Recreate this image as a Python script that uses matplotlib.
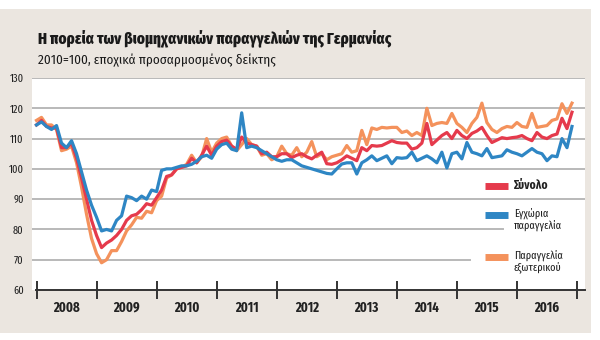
import matplotlib
matplotlib.use('Agg')
import matplotlib.pyplot as plt
import numpy as np

# Μηνιαίες τιμές δείκτη (2010=100), Ιαν. 2008 - Δεκ. 2016
synolo = [
    114.5, 116, 114, 113.5, 113.5, 107, 107, 108.5, 103.5, 97, 90, 83,            # 2008
    78, 74, 75.5, 76.5, 78, 80, 83, 84.5, 85, 86.5, 88.5, 88,                     # 2009
    90.5, 93, 97.5, 98, 100, 100.5, 101, 103.5, 102, 104.5, 107.5, 104.5,         # 2010
    107.5, 109, 109.5, 107.5, 106.5, 110.5, 108.5, 108, 107.5, 105, 105.5, 104,   # 2011
    104, 105, 105, 103.7, 104.5, 105, 104, 103.3, 104.5, 105.5, 101.7, 101.5,     # 2012
    102, 103, 104.3, 103.5, 102.7, 107, 106, 107.7, 107.5, 107.7, 108.5, 109.3,   # 2013
    108.7, 108.5, 108.5, 106.5, 107, 108.5, 115, 108, 109.5, 111, 112, 110,       # 2014
    112.7, 111, 110, 111.7, 112.5, 113.7, 111, 108.7, 109.5, 110.3, 110, 110.3,   # 2015
    110.5, 111, 110, 109.3, 112, 110.5, 110, 111, 111.5, 116.7, 113.3, 118.7,     # 2016
]
egxoria = [
    114.5, 115.5, 114, 113, 114.3, 108.5, 107, 109.3, 105, 99, 93, 88,            # 2008
    84, 79.5, 80, 79.5, 83, 84.5, 91, 90.5, 89.5, 91, 90, 93,                     # 2009
    92.5, 99.5, 100, 100, 100.5, 101, 101, 101.5, 102.5, 104, 104.5, 103.5,       # 2010
    106.5, 108, 108.5, 106.5, 106, 118.5, 107, 107.5, 107, 106, 105, 104,         # 2011
    103, 102.5, 103, 103, 102, 101, 100.5, 100, 99.5, 99, 98.5, 98.3,             # 2012
    100, 101.6, 102, 102, 98.3, 102, 103, 104.3, 102.7, 103.5, 104.3, 101.7,      # 2013
    103.7, 103.5, 103.7, 105.5, 102.7, 103.5, 104.3, 103.3, 102, 105.5, 100.3, 105,  # 2014
    105.5, 103.3, 108.7, 105.5, 105, 104.3, 106.7, 103.7, 104, 104.3, 106.3, 105.5,  # 2015
    105, 104.3, 105.5, 106.7, 105.5, 105, 102.7, 104.3, 104, 110, 107, 114,       # 2016
]
exoteriko = [
    116, 117, 114.5, 114.5, 113, 106, 106.5, 107.5, 102, 94, 85, 77,              # 2008
    72, 69, 70, 73, 73, 76, 79.5, 81.5, 84, 83.7, 86, 85.5,                       # 2009
    89.5, 91, 97, 98, 100, 100.5, 101.5, 104.5, 102, 104, 110, 105.5,             # 2010
    108.5, 110, 110.5, 107.5, 106, 108, 110, 108, 107.5, 104.5, 105, 103,         # 2011
    104, 107.5, 105, 104.5, 107, 104, 105.5, 109, 104, 105, 103, 104,             # 2012
    104.5, 105, 107.7, 105.5, 106, 112.7, 108, 113.5, 113, 113.7, 113.5, 113.7,   # 2013
    113.7, 112, 112.5, 111, 112, 111, 120, 114.3, 115, 115.3, 115, 118.3,         # 2014
    115, 113.7, 112, 115, 117, 121.7, 115.3, 113, 112, 113.3, 114, 113.7,         # 2015
    115.3, 114, 113.7, 118.3, 113.7, 114, 114.3, 116, 116.5, 121.5, 118.3, 121.7, # 2016
]
years = ['2008', '2009', '2010', '2011', '2012', '2013', '2014', '2015', '2016']
yticks = [60, 70, 80, 90, 100, 110, 120, 130]
labels = ['Σύνολο', 'Εγχώρια\nπαραγγελία', 'Παραγγελία\nεξωτερικού']

months = np.arange(len(synolo))

RED = '#e53a4c'
BLUE = '#2e86c4'
ORANGE = '#f4925c'
BEIGE = '#ebe6e0'
GRID = '#b9b9b9'
FONT = 'Fira Sans Extra Condensed'

fig = plt.figure(figsize=(6, 3.4), dpi=100, facecolor='white')
# μπεζ φόντο της κάρτας
bg = plt.Rectangle((0, 0.02), 0.985, 0.955, transform=fig.transFigure,
                   facecolor=BEIGE, edgecolor='none', zorder=-10)
fig.add_artist(bg)

ax = fig.add_axes([32 / 600, 50 / 340, 553 / 600, 212 / 340])
ax.set_facecolor('white')
ax.set_xlim(-0.9, 109.6)
ax.set_ylim(60, 130)

# οριζόντιες γραμμές πλέγματος (κοντύτερες πίσω από το υπόμνημα)
grid_end = {80: 0.852, 70: 0.792}
for v in yticks[1:]:
    ax.axhline(v, xmin=0, xmax=grid_end.get(v, 1), color=GRID, lw=1.4, zorder=1)

ax.plot(months, exoteriko, color=ORANGE, lw=2.3, zorder=3, solid_joinstyle='round')
ax.plot(months, synolo, color=RED, lw=2.3, zorder=4, solid_joinstyle='round')
ax.plot(months, egxoria, color=BLUE, lw=2.3, zorder=5, solid_joinstyle='round')

for s in ['top', 'right', 'left']:
    ax.spines[s].set_visible(False)
ax.spines['bottom'].set_color('#333333')
ax.spines['bottom'].set_linewidth(1.4)
ax.spines['bottom'].set_bounds(-0.2, 109.6)

# ετήσιες υποδιαιρέσεις
bounds = np.arange(0, len(years) + 1) * 12
ax.set_xticks(bounds)
ax.set_xticklabels([])
ax.tick_params(axis='x', direction='inout', length=13, width=1.4, color='#333333')
for i, y in enumerate(years):
    ax.text(i * 12 + 6, 54.2, y, ha='center', va='center', fontsize=10,
            fontweight='bold', family=FONT, color='#222222')

ax.set_yticks(yticks)
ax.set_yticklabels([str(v) for v in yticks], family=FONT, fontsize=8, color='#222222')
ax.tick_params(axis='y', length=0, pad=6)

# υπόμνημα
leg_y = [94.4, 84.8, 71.0]
for col, lab, yv in zip([RED, BLUE, ORANGE], labels, leg_y):
    ax.plot([89.6, 94.3], [yv, yv], color=col, lw=5, solid_capstyle='butt', zorder=6)
    if '\n' in lab:
        ax.text(95.4, yv + 2.4, lab, ha='left', va='top', fontsize=8,
                family=FONT, color='#222222', linespacing=1.1)
    else:
        ax.text(95.4, yv, lab, ha='left', va='center', fontsize=9,
                fontweight='bold', family=FONT, color='#222222')

fig.text(38 / 600, 1 - 38 / 340, 'Η πορεία των βιομηχανικών παραγγελιών της Γερμανίας',
         ha='left', va='center', fontsize=11.8, fontweight='heavy', family=FONT,
         color='#1a1a1a')
fig.text(38 / 600, 1 - 60 / 340, '2010=100, εποχικά προσαρμοσμένος δείκτης',
         ha='left', va='center', fontsize=9.5, family='Fira Sans Condensed',
         color='#1a1a1a')

fig.savefig('out.png', dpi=100, facecolor='white')
